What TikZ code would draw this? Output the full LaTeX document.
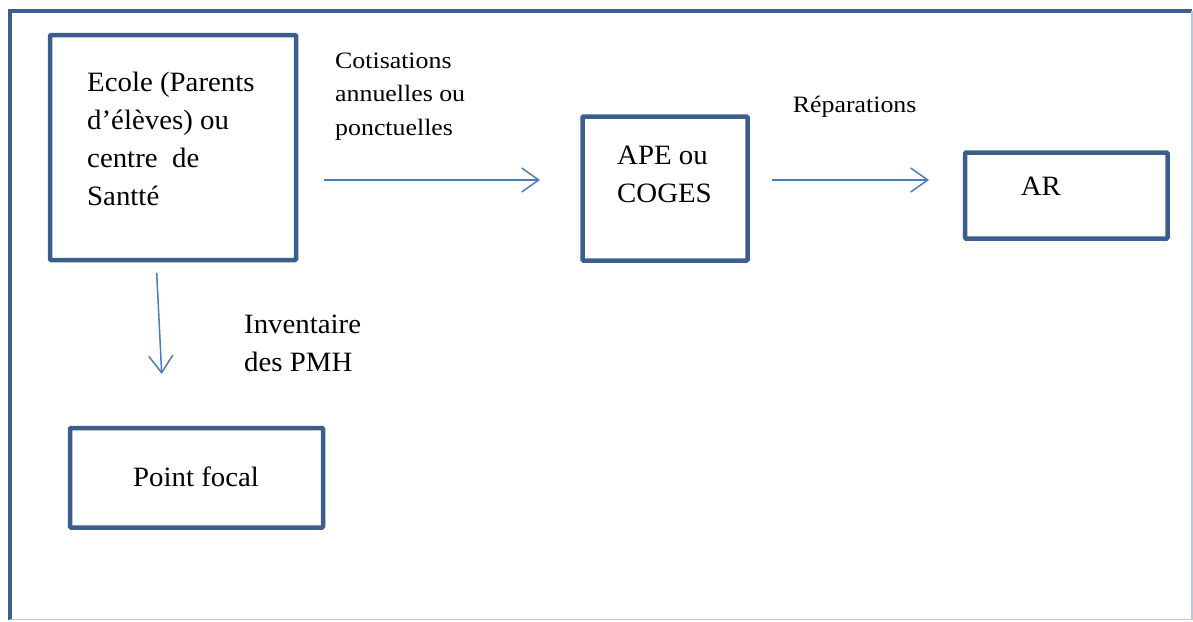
\documentclass[tikz,border=0pt]{standalone}
\usepackage{fontspec}
\setmainfont{Liberation Serif}
\usetikzlibrary{arrows.meta}
\definecolor{boxblue}{HTML}{3B5E8C}
\definecolor{arrowblue}{HTML}{4A7EBB}
\definecolor{edgegray}{HTML}{B9C9DA}

\begin{document}
\begin{tikzpicture}[x=1pt,y=-1pt,
  box/.style={draw=boxblue, line width=4.5pt, rounded corners=1pt, inner sep=0pt},
  % multi-line texts are placed by the baseline of their last line
  maintext/.style={font=\fontsize{28}{38}\selectfont, align=left, anchor=base west, inner sep=0pt, xscale=1.03},
  smalltext/.style={font=\fontsize{23.5}{33.4}\selectfont, align=left, anchor=base west, inner sep=0pt, xscale=1.1},
  flow/.style={draw=arrowblue, line width=1.5pt, -{Straight Barb[length=17pt,width=24pt,line width=1.5pt]}}]

\useasboundingbox (0,0) rectangle (1193,621);

% page frame
\draw[boxblue, line width=4pt] (10,619.5) -- (10,11.3) -- (1192,11.3);
\draw[edgegray, line width=1.5pt] (1192,11.3) -- (1192,619.5) -- (10,619.5);

% boxes
\node[box, minimum width=246pt, minimum height=225pt] (ecole) at (173,147.5) {};
\node[box, minimum width=165pt, minimum height=144pt] (ape) at (665,188.5) {};
\node[box, minimum width=202.5pt, minimum height=86pt] (ar) at (1066.25,195.5) {};
\node[box, minimum width=253pt, minimum height=99.5pt] (focal) at (196.5,477.75) {};

% texts
\node[maintext] (ecoleT) at (87,205.7) {Ecole (Parents\\d’élèves) ou\\centre\ \ de\\Santté};
\node[smalltext] (cotis) at (335,135.1) {Cotisations\\annuelles ou\\ponctuelles};
\node[maintext] (apeT) at (617,202) {APE ou\\COGES};
\node[smalltext] (repar) at (792.7,112.3) {Réparations};
\node[maintext] (arT) at (1020.7,195.7) {AR};
\node[maintext] (invT) at (244,371) {Inventaire\\des PMH};
\node[maintext] (focalT) at (133,486) {Point focal};

% arrow ends
\coordinate (c1a) at (324,180);
\coordinate (c1b) at (540,180);
\coordinate (c2a) at (772,180);
\coordinate (c2b) at (929,180);
\coordinate (c3a) at (156.7,272.7);
\coordinate (c3b) at (161.7,374);

\draw[flow] (c1a) -- (c1b);
\draw[flow] (c2a) -- (c2b);
\draw[flow] (c3a) -- (c3b);
\end{tikzpicture}
\end{document}
